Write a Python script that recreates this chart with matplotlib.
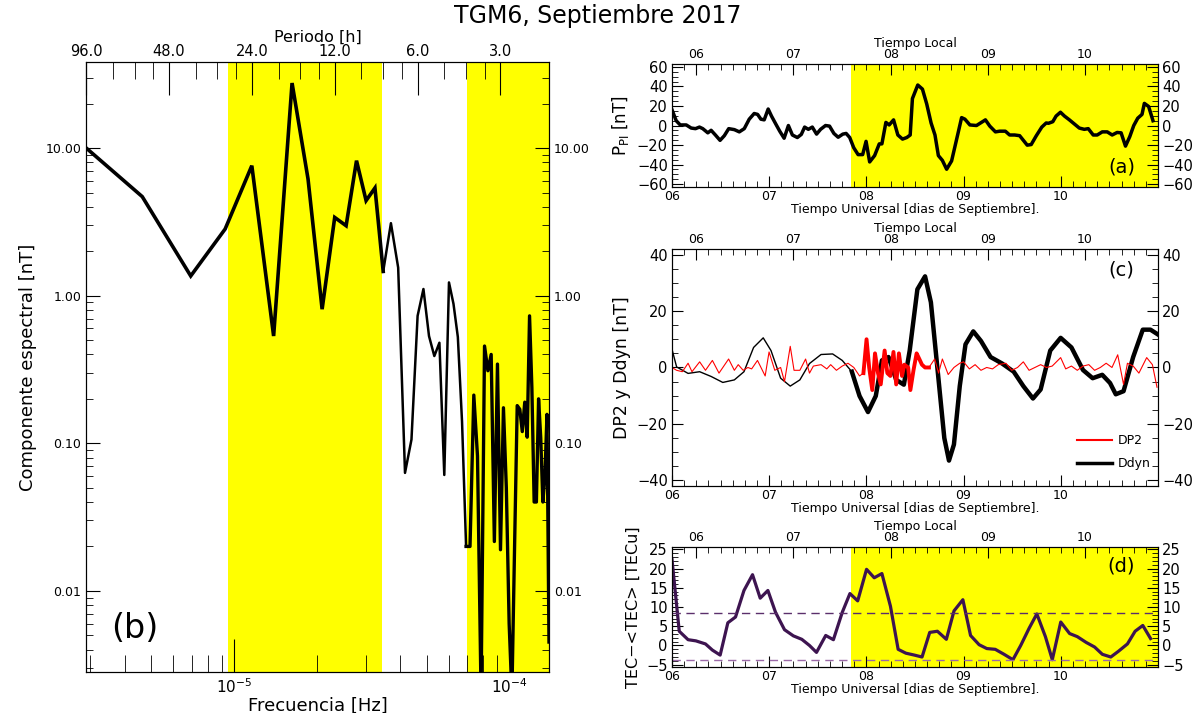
import numpy as np
import matplotlib.pyplot as plt
from matplotlib.lines import Line2D
from matplotlib.ticker import (FixedLocator, FixedFormatter, NullFormatter,
                               MultipleLocator, LogLocator)

plt.rcParams['font.family'] = 'DejaVu Sans'
plt.rcParams['mathtext.fontset'] = 'dejavusans'

YELLOW = '#ffff00'

# ---- (b) spectrum: amplitude of each harmonic of a 120 h record
record_hours = 120.0
harmonic = np.arange(1, 61)
spectrum = [14.4, 4.69, 1.36, 2.83, 7.6, 0.533, 27.6, 6.18, 0.81, 3.39,
            2.98, 8.22, 4.41, 5.37, 1.46, 3.1, 1.55, 0.063, 0.106, 0.73,
            1.11, 0.533, 0.39, 0.48, 0.061, 1.23, 0.88, 0.525, 0.14, 0.020,
            0.020, 0.212, 0.082, 0.002, 0.456, 0.31, 0.40, 0.0216, 0.344, 0.019,
            0.174, 0.05, 0.006, 0.002, 0.02, 0.18, 0.17, 0.12, 0.19, 0.11,
            0.73, 0.24, 0.04, 0.04, 0.20, 0.109, 0.04, 0.06, 0.157, 0.0045]
period_major = [96, 48, 24, 12, 6, 3]
period_labels = ['96.0', '48.0', '24.0', '12.0', '6.0', '3.0']
band_periods = [(29.2, 8.1), (3.96, 1.9)]   # hours
spec_yticks = [10, 1, 0.1, 0.01]
spec_ylabels = ['10.00', '1.00', '0.10', '0.01']

# ---- (a) P_PI
t_ppi = [6.000, 6.044, 6.085, 6.147, 6.198, 6.242, 6.283, 6.317, 6.369, 6.403,
         6.447, 6.495, 6.539, 6.584, 6.642, 6.693, 6.744, 6.795, 6.846, 6.881,
         6.915, 6.949, 6.990, 7.024, 7.068, 7.109, 7.154, 7.198, 7.239, 7.290,
         7.331, 7.365, 7.403, 7.444, 7.488, 7.529, 7.580, 7.621, 7.666, 7.710,
         7.758, 7.792, 7.829, 7.870, 7.915, 7.962, 7.997, 8.034, 8.085, 8.133,
         8.160, 8.201, 8.235, 8.280, 8.324, 8.372, 8.416, 8.451, 8.474, 8.529,
         8.577, 8.621, 8.666, 8.706, 8.741, 8.782, 8.826, 8.877, 8.939, 8.980,
         9.014, 9.065, 9.133, 9.184, 9.225, 9.270, 9.328, 9.372, 9.430, 9.474,
         9.526, 9.577, 9.655, 9.696, 9.747, 9.805, 9.850, 9.874, 9.918, 9.952,
         9.997, 10.038, 10.089, 10.140, 10.191, 10.242, 10.283, 10.334, 10.375, 10.427,
         10.478, 10.529, 10.580, 10.621, 10.666, 10.710, 10.751, 10.792, 10.836, 10.860,
         10.904, 10.949]
ppi = [16.2, 4.9, 0.6, 0.6, -2.6, -3.2, -1.6, -3.2, -7.5, -4.9,
       -9.7, -15.2, -10.4, -3.2, -4.2, -6.5, -3.2, 6.5, 12.3, 11.4,
       6.5, 5.8, 16.9, 9.7, 1.6, -5.8, -13.0, 0.0, -9.7, -12.3,
       -9.1, -1.6, -3.9, -1.6, -8.8, -3.9, 0.0, -0.6, -8.1, -12.0,
       -8.8, -8.1, -12.3, -22.7, -29.8, -29.8, -16.2, -37.3, -30.8, -18.8,
       -18.8, 3.2, 0.6, 5.8, -9.7, -13.9, -12.3, -9.7, 27.6, 41.5,
       37.3, 22.1, 2.6, -9.7, -30.8, -35.7, -44.8, -36.3, -9.7, 8.1,
       6.5, 0.6, 0.0, 3.2, 5.8, -0.6, -6.5, -5.8, -5.8, -9.7,
       -9.7, -10.4, -20.1, -19.5, -10.7, -1.6, 2.6, 2.3, 3.9, 9.7,
       13.6, 9.7, 5.8, 1.6, -2.6, -3.9, -3.2, -9.7, -9.7, -6.5,
       -6.5, -9.7, -7.1, -7.5, -21.1, -11.4, 0.0, 7.5, 11.4, 22.7,
       19.5, 4.9]

# ---- (c) DP2 and Ddyn
t_ddyn = [6.000, 6.048, 6.166, 6.285, 6.404, 6.523, 6.642, 6.741, 6.840, 6.939,
          7.019, 7.118, 7.217, 7.316, 7.415, 7.534, 7.653, 7.752, 7.851, 7.930,
          8.017, 8.097, 8.160, 8.228, 8.307, 8.386, 8.446, 8.525, 8.604, 8.664,
          8.743, 8.802, 8.850, 8.901, 8.961, 9.020, 9.100, 9.179, 9.278, 9.397,
          9.516, 9.615, 9.714, 9.793, 9.892, 9.999, 10.110, 10.229, 10.328, 10.427,
          10.507, 10.566, 10.646, 10.745, 10.844, 10.923, 11.000]
ddyn = [6.5, 0.2, -2.1, -1.5, -3.2, -5.3, -4.4, -1.5, 7.1, 10.5,
        6.0, -3.8, -6.6, -4.4, 1.4, 4.6, 4.8, 2.5, -1.5, -10.1,
        -15.8, -10.1, 2.5, 3.7, -4.4, -6.1, 6.0, 27.7, 32.3, 23.1,
        -4.4, -25.0, -33.0, -27.3, -6.6, 8.2, 12.8, 9.4, 3.7, 1.4,
        -1.5, -6.6, -11.0, -7.8, 6.0, 10.5, 7.1, -0.9, -3.8, -2.6,
        -5.5, -9.5, -8.4, 3.7, 13.4, 13.4, 11.7]
t_dp2 = [6.000, 6.048, 6.107, 6.166, 6.206, 6.285, 6.345, 6.416, 6.484, 6.583,
         6.642, 6.682, 6.733, 6.781, 6.820, 6.880, 6.959, 6.999, 7.058, 7.118,
         7.158, 7.217, 7.256, 7.316, 7.375, 7.415, 7.455, 7.534, 7.593, 7.633,
         7.692, 7.752, 7.811, 7.871, 7.930, 7.970, 8.002, 8.029, 8.061, 8.089,
         8.120, 8.148, 8.188, 8.216, 8.247, 8.279, 8.307, 8.335, 8.367, 8.391,
         8.430, 8.453, 8.485, 8.517, 8.545, 8.572, 8.604, 8.644, 8.703, 8.743,
         8.782, 8.842, 8.901, 8.961, 9.000, 9.060, 9.119, 9.179, 9.238, 9.298,
         9.357, 9.436, 9.496, 9.555, 9.615, 9.674, 9.734, 9.793, 9.853, 9.912,
         9.999, 10.051, 10.110, 10.170, 10.229, 10.289, 10.348, 10.407, 10.467, 10.527,
         10.586, 10.646, 10.686, 10.745, 10.804, 10.884, 10.943, 10.990]
dp2 = [0, -1, -1.5, 1.5, -1.5, 2, -1, 2.5, -2, 3,
       -1, 1, -1, 0, -0.5, 2.5, -3, 5.5, -1, 0,
       -5, 7.5, -1, -1, 3, -2, 0.5, 1, -0.5, 1,
       -1, 0.5, 1.5, 0, -3, -2, 10, 0, -8, 5,
       -2, -6, 6, -2, -3, 5.5, -6, 5, -3, 1,
       0, -8, -1, 5, 3, 1, 0, 0, 3, -2,
       3, -2.5, 0, 1.5, 2, -0.5, 1, -1, 0, -0.5,
       1, 1.5, -1, 0, 2, -1, 0, 1, 0, 0.5,
       3.5, -0.5, 0.5, -1, 0.5, 1, -1, 0, 1.5, 0,
       4.5, -6, 1.5, 0.5, -2, 3.5, 1, -7]

# ---- (d) TEC - <TEC>
t_tec = [6.000, 6.075, 6.166, 6.246, 6.345, 6.416, 6.496, 6.575, 6.654, 6.741,
         6.829, 6.908, 6.987, 7.066, 7.158, 7.249, 7.336, 7.415, 7.487, 7.582,
         7.661, 7.752, 7.831, 7.911, 8.002, 8.081, 8.160, 8.248, 8.327, 8.406,
         8.494, 8.573, 8.652, 8.731, 8.823, 8.902, 8.993, 9.072, 9.160, 9.239,
         9.326, 9.417, 9.508, 9.588, 9.675, 9.754, 9.842, 9.913, 10.000, 10.091,
         10.170, 10.261, 10.348, 10.428, 10.515, 10.594, 10.686, 10.765, 10.844, 10.924]
tec = [22.5, 3.7, 1.5, 1.2, 0.4, -1.2, -2.5, 5.9, 7.4, 14.3,
       18.4, 12.3, 14.3, 8.6, 4.1, 2.5, 1.6, 0.0, -1.8, 2.6,
       1.5, 8.6, 13.5, 11.6, 19.8, 17.6, 18.7, 10.2, -1.0, -2.0,
       -2.5, -3.0, 3.4, 3.7, 1.6, 9.0, 11.9, 2.6, 0.2, -0.8,
       -1.0, -2.3, -3.7, 0.0, 4.5, 8.2, 2.3, -3.7, 6.1, 3.1,
       2.3, 0.8, -0.4, -2.3, -3.0, -1.5, 0.4, 3.7, 5.2, 1.8]
tec_upper = 8.4
tec_lower = -3.85

storm_start = 7.84          # start of shaded interval (UT days)
day_ticks = [6, 7, 8, 9, 10]
day_labels = ['06', '07', '08', '09', '10']
local_shift = 0.25          # local midnight = 06 UT


def hz(period_h):
    return 1.0 / (np.asarray(period_h, dtype=float) * 3600.0)


fig = plt.figure(figsize=(11.95, 7.13), dpi=100)
fig.text(0.5, 0.977, 'TGM6, Septiembre 2017', ha='center', va='center',
         fontsize=17)

# ================= spectrum
freq = harmonic / (record_hours * 3600.0)
spec = np.array(spectrum)
axb = fig.add_axes([0.0720, 0.0575, 0.3874, 0.8555])
for p_hi, p_lo in band_periods:
    axb.axvspan(hz(p_hi), hz(p_lo), color=YELLOW, lw=0, zorder=0)
axb.plot(freq[:15], spec[:15], color='k', lw=2.6, solid_joinstyle='miter')
axb.plot(freq[14:30], spec[14:30], color='k', lw=1.8)
axb.plot(freq[29:], spec[29:], color='k', lw=2.4)
axb.set_xscale('log')
axb.set_yscale('log')
axb.set_xlim(hz(96), hz(2))
axb.set_ylim(0.00282, 38.3)
axb.yaxis.set_major_locator(FixedLocator(spec_yticks))
axb.yaxis.set_major_formatter(FixedFormatter(spec_ylabels))
axb.yaxis.set_minor_locator(LogLocator(subs=np.arange(2, 10)))
axb.yaxis.set_minor_formatter(NullFormatter())
axb.xaxis.set_minor_locator(LogLocator(subs=np.arange(2, 10)))
axb.xaxis.set_minor_formatter(NullFormatter())
axb.tick_params(axis='y', which='both', direction='in', left=True, right=True,
                labelright=True, labelsize=9)
axb.tick_params(axis='y', which='major', length=10)
axb.tick_params(axis='y', which='minor', length=5)
axb.tick_params(axis='x', which='both', direction='in', labelsize=11)
axb.tick_params(axis='x', which='major', length=24)
axb.tick_params(axis='x', which='minor', length=12)
axb.set_xlabel('Frecuencia [Hz]', fontsize=13, labelpad=1)
axb.set_ylabel('Componente espectral [nT]', fontsize=13, labelpad=6)
axb.text(0.055, 0.055, '(b)', transform=axb.transAxes, fontsize=24)

axp = axb.twiny()
axp.set_xscale('log')
axp.set_xlim(hz(96), hz(2))
period_minor = [p / s for p in period_major[:-1] for s in (1.25, 1.5, 1.75)]
axp.xaxis.set_major_locator(FixedLocator(hz(period_major)))
axp.xaxis.set_major_formatter(FixedFormatter(period_labels))
axp.xaxis.set_minor_locator(FixedLocator(hz(period_minor)))
axp.xaxis.set_minor_formatter(NullFormatter())
axp.tick_params(axis='x', which='both', direction='in', labelsize=10.5, pad=2)
axp.tick_params(axis='x', which='major', length=24)
axp.tick_params(axis='x', which='minor', length=12)
axp.set_xlabel('Periodo [h]', fontsize=11.5, labelpad=2)


# ================= time series panels
def time_panel(rect, ylim, major, minor):
    ax = fig.add_axes(rect)
    ax.set_xlim(6, 11)
    ax.set_ylim(*ylim)
    ax.xaxis.set_major_locator(FixedLocator(day_ticks))
    ax.xaxis.set_major_formatter(FixedFormatter(day_labels))
    ax.xaxis.set_minor_locator(MultipleLocator(0.125))
    ax.yaxis.set_major_locator(MultipleLocator(major))
    ax.yaxis.set_minor_locator(MultipleLocator(minor))
    ax.tick_params(which='both', direction='in', left=True, right=True,
                   labelright=True)
    ax.tick_params(axis='y', labelsize=10.5, pad=3)
    ax.tick_params(axis='x', labelsize=9, pad=2)
    ax.tick_params(which='major', length=8)
    ax.tick_params(which='minor', length=4)
    ax.set_xlabel('Tiempo Universal [dias de Septiembre].', fontsize=9,
                  labelpad=0)
    top = ax.twiny()
    top.set_xlim(6, 11)
    top.xaxis.set_major_locator(FixedLocator([d + local_shift for d in day_ticks]))
    top.xaxis.set_major_formatter(FixedFormatter(day_labels))
    top.xaxis.set_minor_locator(MultipleLocator(0.125))
    top.tick_params(which='both', direction='in', labelsize=9, pad=2)
    top.tick_params(which='major', length=8)
    top.tick_params(which='minor', length=4)
    top.set_xlabel('Tiempo Local', fontsize=9, labelpad=1)
    return ax


axa = time_panel([0.5623, 0.7377, 0.4067, 0.1725], (-63, 63), 20, 5)
axa.axvspan(storm_start, 11, color=YELLOW, lw=0, zorder=0)
axa.plot(t_ppi, ppi, color='k', lw=2.5)
axa.set_ylabel(r'P$_{\rm PI}$ [nT]', fontsize=12, labelpad=4)
axa.text(0.925, 0.12, '(a)', transform=axa.transAxes, fontsize=14, ha='center')

axc = time_panel([0.5623, 0.3184, 0.4067, 0.3324], (-42, 42), 20, 5)
td = np.array(t_ddyn)
dd = np.array(ddyn)
axc.plot(td[td <= 7.86], dd[td <= 7.86], color='k', lw=1.0)
axc.plot(td[td >= 7.85], dd[td >= 7.85], color='k', lw=3.2)
tp = np.array(t_dp2)
dp = np.array(dp2)
axc.plot(tp, dp, color='red', lw=0.8)
hot = (tp >= 7.96) & (tp <= 8.65)
axc.plot(tp[hot], dp[hot], color='red', lw=2.8)
axc.set_ylabel('DP2 y Ddyn [nT]', fontsize=12.5, labelpad=4)
axc.text(0.925, 0.89, '(c)', transform=axc.transAxes, fontsize=14, ha='center')
handles = [Line2D([], [], color='red', lw=1.5),
           Line2D([], [], color='k', lw=2.5)]
axc.legend(handles, ['DP2', 'Ddyn'], loc='lower left',
           bbox_to_anchor=(0.81, 0.02), frameon=False, fontsize=9,
           handlelength=2.8, labelspacing=0.8, handletextpad=0.5)

axd = time_panel([0.5623, 0.0645, 0.4067, 0.1683], (-5.6, 25.6), 5, 1)
axd.axvspan(storm_start, 11, color=YELLOW, lw=0, zorder=0)
axd.plot(t_tec, tec, color='#3d1450', lw=2.3)
axd.axhline(tec_upper, color='#5b2f6b', lw=1.0, ls=(0, (6, 4)))
axd.axhline(tec_lower, color='#9b6aa8', lw=1.0, ls=(0, (6, 4)))
axd.set_ylabel('TEC\u2212<TEC> [TECu]', fontsize=11.5, labelpad=4)
axd.text(0.925, 0.8, '(d)', transform=axd.transAxes, fontsize=14, ha='center')

fig.savefig('out.png', dpi=100)
